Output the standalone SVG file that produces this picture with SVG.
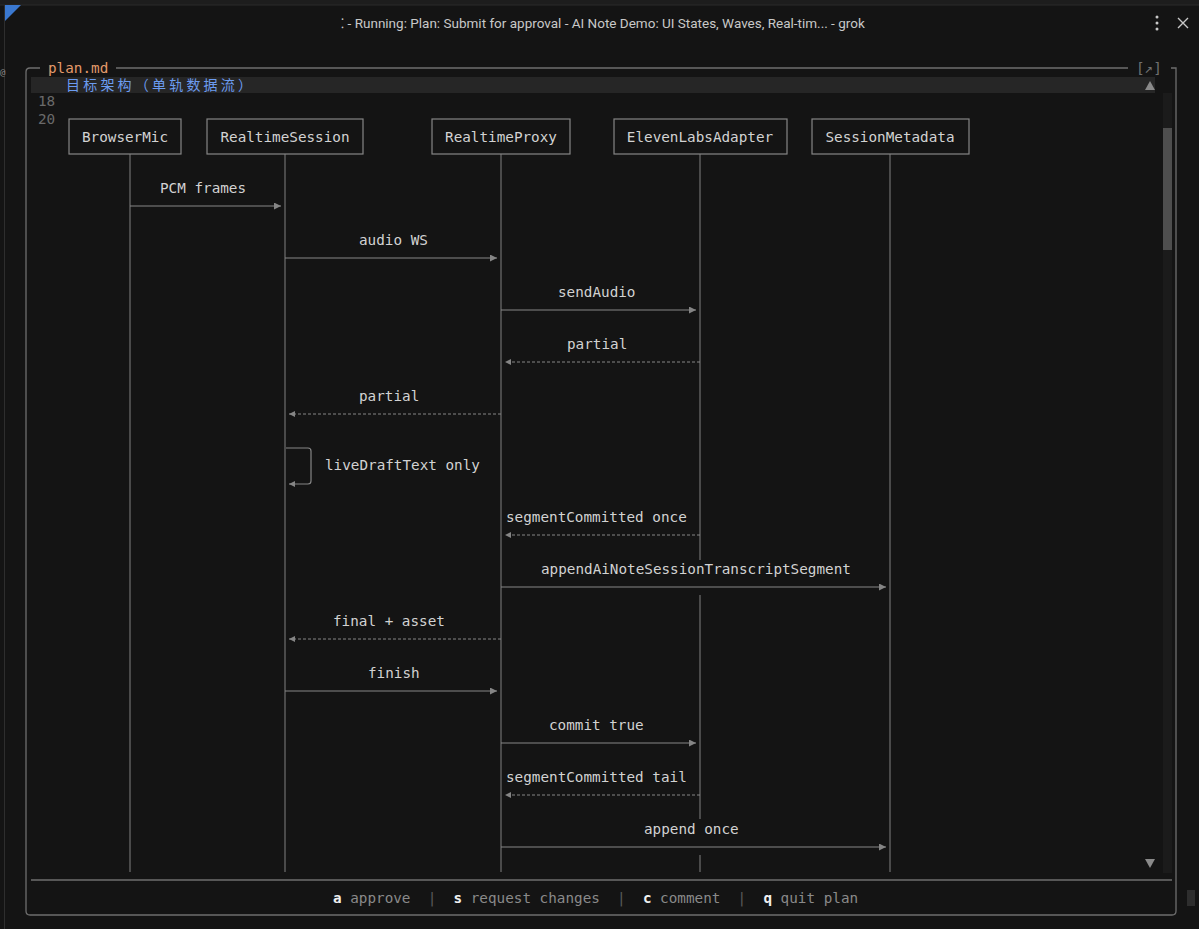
<svg xmlns="http://www.w3.org/2000/svg" width="1199" height="929" viewBox="0 0 1199 929">
<defs>
<style>
.mono{font-family:"DejaVu Sans Mono","Liberation Mono",monospace;font-size:14.3px}
.lbl{fill:#d2d2d2}
.box{fill:#141414;stroke:#858585;stroke-width:1.2}
.life{stroke:#777777;stroke-width:1.1;fill:none}
.msg{stroke:#858585;stroke-width:1.2;fill:none}
.ret{stroke:#858585;stroke-width:1;stroke-dasharray:3 2;fill:none}
.frame{stroke:#6e6e6e;stroke-width:1.3;fill:none}
.key{fill:#f0f0f0;font-weight:bold}
.sep{fill:#5a5a5a}
</style>
<marker id="ah" viewBox="0 0 10 10" refX="10" refY="5" markerWidth="9" markerHeight="7" markerUnits="userSpaceOnUse" orient="auto"><path d="M0,0L10,5L0,10z" fill="#858585"/></marker>
<marker id="ahr" viewBox="0 0 10 10" refX="10" refY="5" markerWidth="8" markerHeight="6" markerUnits="userSpaceOnUse" orient="auto"><path d="M0,0L10,5L0,10z" fill="#858585"/></marker>
</defs>
<rect width="1199" height="929" fill="#141414"/>
<!-- window chrome -->
<rect x="0" y="0" width="1199" height="5" fill="#1d1d1d"/>
<line x1="0" y1="5" x2="1199" y2="5" stroke="#2a2a2a"/>
<path d="M5,5L21,5L5,21z" fill="#3a78d0"/>
<line x1="4.5" y1="5" x2="4.5" y2="929" stroke="#2e2e2e"/>
<text x="603" y="28" text-anchor="middle" font-family="Roboto,'Liberation Sans',sans-serif" font-size="13.5" fill="#c8c8c8">⁚ - Running: Plan: Submit for approval - AI Note Demo: UI States, Waves, Real-tim... - grok</text>
<g fill="#c8c8c8"><circle cx="1157" cy="17" r="1.5"/><circle cx="1157" cy="23" r="1.5"/><circle cx="1157" cy="29" r="1.5"/></g>
<path d="M1178,18L1188,28M1188,18L1178,28" stroke="#c8c8c8" stroke-width="1.4"/>
<text x="0" y="75" font-family="'DejaVu Sans Mono',monospace" font-size="9" fill="#8a8a8a">@</text>
<!-- panel frame -->
<g id="panel">
<path class="frame" d="M40,68L30,68Q26,68 26,72L26,911Q26,915 30,915L1172,915Q1176,915 1176,911L1176,68L1171,68"/>
<line class="frame" x1="116" y1="68" x2="1128" y2="68"/>
<text x="48" y="73" class="mono" fill="#e39a6a">plan.md</text>
<text x="1136" y="73" class="mono" fill="#707070">[↗]</text>
<line class="frame" x1="31" y1="880" x2="1172" y2="880"/>
<rect x="31" y="77" width="1124" height="16" fill="#262626"/>
<text x="66" y="90" font-family="'Noto Sans CJK SC','DejaVu Sans Mono',sans-serif" font-size="14" letter-spacing="3.2" fill="#6c9cf0">目标架构（单轨数据流）</text>
<path d="M1145,90L1155,90L1150,81z" fill="#8a8a8a"/>
<path d="M1145,859L1155,859L1150,868z" fill="#8a8a8a"/>
<text x="38" y="106" class="mono" fill="#6a6a6a">18</text>
<text x="38" y="124" class="mono" fill="#6a6a6a">20</text>
<rect x="1163" y="93" width="9" height="780" fill="#1b1b1b"/>
<rect x="1163" y="128" width="9" height="122" fill="#4e4e4e"/>
<rect x="1187" y="890" width="8" height="16" fill="#2e2e2e"/>
<text x="333" y="903" class="mono" xml:space="preserve" fill="#8a8a8a"><tspan class="key">a</tspan> approve  <tspan class="sep">|</tspan>  <tspan class="key">s</tspan> request changes  <tspan class="sep">|</tspan>  <tspan class="key">c</tspan> comment  <tspan class="sep">|</tspan>  <tspan class="key">q</tspan> quit plan</text>
</g>
<!-- lifelines -->
<g id="lifelines">
<line class="life" x1="130" y1="154" x2="130" y2="872"/>
<line class="life" x1="285" y1="154" x2="285" y2="872"/>
<line class="life" x1="501" y1="154" x2="501" y2="872"/>
<path class="life" d="M700,154V560M700,595V819M700,855V872"/>
<line class="life" x1="890" y1="154" x2="890" y2="872"/>
</g>
<!-- participants -->
<g id="BrowserMic"><rect class="box" x="69" y="119" width="112" height="35"/><text class="mono lbl" x="125" y="142" text-anchor="middle">BrowserMic</text></g>
<g id="RealtimeSession"><rect class="box" x="207" y="119" width="156" height="35"/><text class="mono lbl" x="285" y="142" text-anchor="middle">RealtimeSession</text></g>
<g id="RealtimeProxy"><rect class="box" x="432" y="119" width="138" height="35"/><text class="mono lbl" x="501" y="142" text-anchor="middle">RealtimeProxy</text></g>
<g id="ElevenLabsAdapter"><rect class="box" x="614" y="119" width="173" height="35"/><text class="mono lbl" x="700" y="142" text-anchor="middle">ElevenLabsAdapter</text></g>
<g id="SessionMetadata"><rect class="box" x="812" y="119" width="157" height="35"/><text class="mono lbl" x="890" y="142" text-anchor="middle">SessionMetadata</text></g>
<!-- messages -->
<g id="connectors">
<line class="msg" x1="130" y1="206" x2="281" y2="206" marker-end="url(#ah)"/>
<line class="msg" x1="285" y1="258" x2="497" y2="258" marker-end="url(#ah)"/>
<line class="msg" x1="501" y1="310" x2="696" y2="310" marker-end="url(#ah)"/>
<line class="ret" x1="700" y1="362" x2="505" y2="362" marker-end="url(#ahr)"/>
<line class="ret" x1="501" y1="414" x2="289" y2="414" marker-end="url(#ahr)"/>
<path class="msg" d="M286,448H308Q311,448 311,451V481Q311,484 308,484H289" marker-end="url(#ahr)"/>
<line class="ret" x1="700" y1="535" x2="505" y2="535" marker-end="url(#ahr)"/>
<line class="msg" x1="501" y1="587" x2="886" y2="587" marker-end="url(#ah)"/>
<line class="ret" x1="501" y1="639" x2="289" y2="639" marker-end="url(#ahr)"/>
<line class="msg" x1="285" y1="691" x2="497" y2="691" marker-end="url(#ah)"/>
<line class="msg" x1="501" y1="743" x2="696" y2="743" marker-end="url(#ah)"/>
<line class="ret" x1="700" y1="795" x2="505" y2="795" marker-end="url(#ahr)"/>
<line class="msg" x1="501" y1="847" x2="886" y2="847" marker-end="url(#ah)"/>
</g>
<g id="labels" class="mono lbl">
<text x="160" y="193">PCM frames</text>
<text x="359" y="245">audio WS</text>
<text x="558" y="297">sendAudio</text>
<text x="567" y="349">partial</text>
<text x="359" y="401">partial</text>
<text x="325" y="470">liveDraftText only</text>
<text x="506" y="522">segmentCommitted once</text>
<text x="541" y="574">appendAiNoteSessionTranscriptSegment</text>
<text x="333" y="626">final + asset</text>
<text x="368" y="678">finish</text>
<text x="549" y="730">commit true</text>
<text x="506" y="782">segmentCommitted tail</text>
<text x="644" y="834">append once</text>
</g>
</svg>
